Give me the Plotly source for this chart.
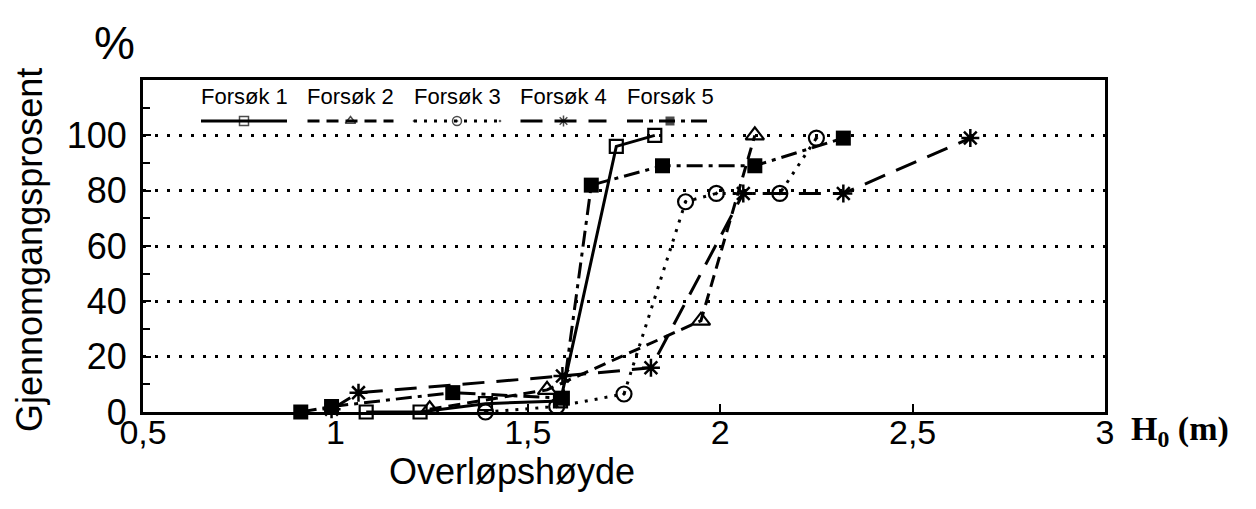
import plotly.graph_objects as go

# ---------------- data ----------------
series_names = ["Forsøk 1", "Forsøk 2", "Forsøk 3", "Forsøk 4", "Forsøk 5"]

f1_x = [1.08, 1.22, 1.39, 1.585, 1.73, 1.83]
f1_y = [0, 0, 3, 4, 96, 100]

f2_x = [1.245, 1.55, 1.95, 2.09]
f2_y = [1, 8, 33, 100]

f3_x = [1.39, 1.575, 1.75, 1.91, 1.99, 2.155, 2.25]
f3_y = [0, 2, 6.5, 76, 79, 79, 99]

f4_x = [0.99, 1.06, 1.59, 1.82, 2.06, 2.32, 2.65]
f4_y = [1, 7, 13, 16, 79, 79, 99]

f5_x = [0.91, 0.99, 1.305, 1.59, 1.665, 1.85, 2.09, 2.32]
f5_y = [0, 2, 7, 5, 82, 89, 89, 99]

x_tick_vals = [0.5, 1, 1.5, 2, 2.5, 3]
x_tick_text = ["0,5", "1", "1,5", "2", "2,5", "3"]
y_tick_vals = [0, 20, 40, 60, 80, 100]
y_tick_text = ["0", "20", "40", "60", "80", "100"]

# ---------------- styling ----------------
W, H = 1256, 509
L, R, T, B = 143, 151, 80, 97
FONT = "Liberation Sans, Arial, Helvetica, sans-serif"

styles = [
    dict(dash="solid", symbol="square-open", size=13, mlw=2.2),
    dict(dash="12px,7px", symbol="triangle-up-open", size=16, mlw=2.2),
    dict(dash="3px,7px", symbol="circle-open-dot", size=15, mlw=2.2),
    dict(dash="22px,12px", symbol="asterisk-open", size=15, mlw=2.5),
    dict(dash="16px,6px,4px,6px", symbol="square", size=15, mlw=0),
]
data = [(f1_x, f1_y), (f2_x, f2_y), (f3_x, f3_y), (f4_x, f4_y), (f5_x, f5_y)]

fig = go.Figure()
for name, (xs, ys), st in zip(series_names, data, styles):
    fig.add_trace(go.Scatter(
        x=xs, y=ys, mode="lines+markers", name=name, showlegend=False,
        line=dict(color="black", width=3, dash=st["dash"]),
        marker=dict(symbol=st["symbol"], size=st["size"], color="black",
                    line=dict(color="black", width=st["mlw"])),
        cliponaxis=False,
    ))

# ---------------- custom legend (text above, sample line below) ----------------
plot_w = W - L - R
plot_h = H - T - B


def px_to_paper_x(px):
    return (px - L) / plot_w


def px_to_paper_y(py):
    return (H - B - py) / plot_h


leg_start, leg_step, leg_len = 201, 106.5, 86
leg_text_y, leg_line_y = 97, 121

# overlay axes in pixel units for legend samples
fig.update_layout(
    xaxis2=dict(overlaying="x", range=[L, W - R], visible=False, fixedrange=True),
    yaxis2=dict(overlaying="y", range=[H - B, T], visible=False, fixedrange=True),
)
for i, (name, st) in enumerate(zip(series_names, styles)):
    x0 = leg_start + i * leg_step
    x1 = x0 + leg_len
    xm = (x0 + x1) / 2
    fig.add_trace(go.Scatter(
        x=[x0, xm, x1], y=[leg_line_y] * 3, xaxis="x2", yaxis="y2",
        mode="lines+markers", showlegend=False, hoverinfo="skip",
        line=dict(color="black", width=3, dash=st["dash"]),
        marker=dict(symbol=st["symbol"], size=[0, 9, 0], color="black",
                    line=dict(color="black", width=min(st["mlw"], 1.5))),
    ))
    fig.add_annotation(
        x=px_to_paper_x(xm), y=px_to_paper_y(leg_text_y), xref="paper", yref="paper",
        text=name, showarrow=False, xanchor="center", yanchor="middle",
        font=dict(family=FONT, size=22, color="black"),
    )

# ---------------- axis titles as annotations ----------------
fig.add_annotation(
    x=px_to_paper_x(512), y=px_to_paper_y(471), xref="paper", yref="paper",
    text="Overløpshøyde", showarrow=False, xanchor="center", yanchor="middle",
    font=dict(family=FONT, size=36, color="black"),
)
fig.add_annotation(
    x=px_to_paper_x(30), y=px_to_paper_y(250), xref="paper", yref="paper",
    text="Gjennomgangsprosent", showarrow=False, textangle=-90,
    xanchor="center", yanchor="middle",
    font=dict(family=FONT, size=36, color="black"),
)
fig.add_annotation(
    x=px_to_paper_x(114), y=px_to_paper_y(43), xref="paper", yref="paper",
    text="%", showarrow=False, xanchor="center", yanchor="middle",
    font=dict(family=FONT, size=46, color="black"),
)
fig.add_annotation(
    x=px_to_paper_x(1180), y=px_to_paper_y(431), xref="paper", yref="paper",
    text="<b>H<sub>0</sub> (m)</b>", showarrow=False, xanchor="center", yanchor="middle",
    font=dict(family="Liberation Serif, Times New Roman, serif", size=34, color="black"),
)

fig.update_layout(
    width=W, height=H,
    margin=dict(l=L, r=R, t=T, b=B),
    paper_bgcolor="white", plot_bgcolor="white",
    showlegend=False,
    font=dict(family=FONT, color="black"),
    xaxis=dict(
        range=[0.5, 3], tickmode="array", tickvals=x_tick_vals, ticktext=x_tick_text,
        showgrid=False, zeroline=False,
        showline=True, linecolor="black", linewidth=3, mirror=True,
        ticks="inside", ticklen=8, tickwidth=2, tickcolor="black",
        ticklabelstandoff=-12,
        tickfont=dict(family=FONT, size=34, color="black"),
    ),
    yaxis=dict(
        range=[0, 120], tickmode="array", tickvals=y_tick_vals, ticktext=y_tick_text,
        showgrid=True, gridcolor="black", gridwidth=3, griddash="3px,9px",
        zeroline=False,
        showline=True, linecolor="black", linewidth=3, mirror=True,
        ticks="inside", ticklen=8, tickwidth=2, tickcolor="black",
        ticklabelstandoff=6,
        tickfont=dict(family=FONT, size=36, color="black"),
        minor=dict(tickmode="linear", tick0=0, dtick=10, ticks="inside",
                   ticklen=7, tickwidth=2, tickcolor="black", showgrid=False),
    ),
)

fig.write_html("out.html")
